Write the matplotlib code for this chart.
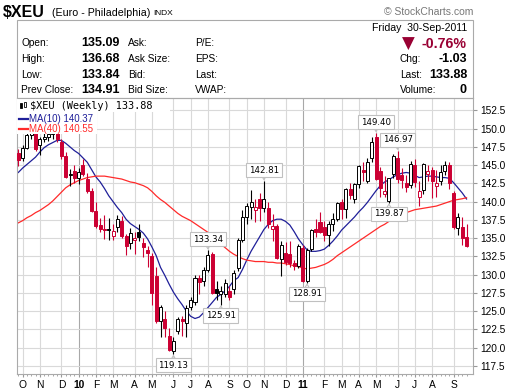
import numpy as np
import pandas as pd
import matplotlib
matplotlib.use("Agg")
import matplotlib.pyplot as plt
from matplotlib.patches import Rectangle

plt.rcParams["font.family"] = ["Liberation Sans", "DejaVu Sans"]

W, H = 520, 391

# weekly bars, week starting Monday
dates = pd.date_range("2009-09-28", periods=105, freq="W-MON")

opens = [146.6, 146.0, 147.3, 149.1, 150.1, 147.8, 148.6, 148.9, 149.3, 149.9,
         148.2, 146.2, 143.6, 144.2, 143.3, 145.0, 143.1, 141.5, 138.7, 136.8,
         136.3, 136.1, 135.3, 136.6, 137.4, 135.3, 134.4, 134.7, 135.8, 134.4,
         133.4, 132.6, 129.8, 123.6, 123.9, 121.6, 119.5, 122.3, 124.0, 123.4,
         125.6, 126.3, 129.6, 129.2, 130.7, 132.9, 128.0, 127.4, 127.3, 127.7,
         128.0, 130.9, 134.8, 137.9, 139.3, 138.9, 140.3, 139.2, 139.2, 136.2,
         136.7, 132.2, 133.0, 132.8, 131.6, 131.2, 133.6, 129.1, 133.5, 136.2,
         137.2, 136.5, 135.4, 137.0, 137.6, 139.9, 139.0, 141.8, 140.3, 142.4,
         144.4, 142.9, 146.0, 148.9, 144.2, 141.1, 140.1, 143.75, 146.0, 143.7,
         142.5, 142.3, 145.0, 140.6, 141.6, 143.8, 144.3, 142.2, 142.9, 144.2,
         145.0, 141.2, 136.4, 136.5, 135.1]
highs = [147.2, 147.8, 149.5, 150.6, 150.6, 148.9, 150.0, 150.2, 151.4, 150.8,
         148.6, 146.8, 144.5, 145.0, 144.6, 145.8, 143.9, 141.9, 140.0, 137.8,
         138.2, 137.7, 137.0, 138.2, 138.0, 135.6, 136.4, 135.9, 137.0, 135.0,
         133.9, 133.0, 131.0, 125.9, 125.0, 122.7, 121.5, 124.2, 124.3, 125.8,
         127.0, 130.0, 129.9, 131.0, 133.34, 133.1, 129.1, 128.5, 129.4, 128.4,
         130.6, 135.0, 138.9, 139.8, 141.6, 140.3, 141.2, 142.81, 139.9, 138.3,
         137.0, 134.6, 134.5, 134.6, 132.0, 134.2, 134.0, 133.6, 136.2, 137.6,
         138.6, 137.4, 137.4, 138.4, 140.0, 140.4, 141.9, 142.5, 142.6, 145.0,
         145.5, 146.0, 148.8, 149.40, 144.8, 143.5, 143.3, 146.5, 146.97, 144.6,
         143.7, 145.6, 145.8, 142.8, 145.3, 145.0, 144.8, 144.4, 145.0, 145.6,
         145.5, 141.5, 138.5, 137.9, 137.0]
lows = [144.9, 145.6, 147.2, 148.6, 146.9, 146.4, 148.2, 148.3, 148.6, 148.2,
        145.9, 143.2, 142.2, 142.6, 142.4, 143.5, 141.2, 138.6, 136.4, 135.8,
        134.9, 134.8, 134.8, 135.9, 135.0, 132.7, 133.5, 132.8, 134.6, 132.4,
        131.1, 125.9, 123.4, 121.5, 121.5, 119.6, 119.13, 121.9, 121.6, 121.5,
        125.2, 125.9, 127.4, 128.5, 130.4, 127.3, 126.6, 125.91, 126.9, 126.6,
        127.4, 130.5, 134.5, 137.0, 137.6, 137.2, 137.3, 138.6, 136.4, 134.6,
        132.2, 129.8, 131.3, 131.1, 130.6, 130.9, 129.0, 128.91, 133.2, 135.2,
        135.7, 134.6, 133.9, 136.0, 137.3, 137.6, 137.7, 140.4, 139.8, 141.9,
        142.8, 142.5, 145.5, 143.0, 140.6, 140.7, 139.87, 143.2, 142.5, 141.9,
        141.3, 141.9, 142.0, 139.4, 141.0, 142.9, 140.5, 140.6, 142.3, 143.6,
        141.8, 136.3, 135.5, 134.0, 133.8]
closes = [145.7, 147.4, 149.1, 150.1, 147.2, 148.6, 148.9, 149.3, 149.9, 148.6,
          146.2, 143.4, 143.8, 143.3, 144.1, 143.8, 141.5, 138.7, 136.7, 136.2,
          136.1, 136.2, 136.0, 137.6, 135.3, 133.9, 135.7, 135.0, 135.2, 133.8,
          133.0, 127.5, 123.6, 125.6, 122.7, 119.7, 120.9, 123.9, 123.6, 125.5,
          126.5, 129.5, 129.0, 130.6, 132.7, 127.5, 127.5, 127.8, 128.9, 127.0,
          130.2, 134.8, 137.9, 139.4, 139.9, 139.3, 139.2, 140.3, 136.9, 136.7,
          132.3, 134.1, 131.8, 131.6, 131.2, 133.9, 129.1, 133.4, 136.1, 135.9,
          135.8, 135.4, 137.0, 137.6, 139.8, 139.0, 141.8, 140.9, 142.4, 144.9,
          144.0, 145.5, 148.2, 143.1, 141.9, 141.5, 143.2, 146.3, 143.1, 143.0,
          142.0, 145.2, 142.7, 141.5, 145.1, 144.2, 142.8, 142.5, 144.1, 145.0,
          142.6, 136.5, 137.9, 135.05, 133.88]

ma10 = [144.0, 144.6, 145.1, 145.6, 146.1, 146.8, 147.4, 147.8, 148.1, 148.4,
        148.4, 148.0, 147.5, 147.0, 146.6, 146.0, 145.4, 144.4, 143.4, 142.7,
        141.8, 140.8, 140.0, 139.2, 138.5, 137.6, 137.0, 136.6, 136.2, 135.7,
        134.9, 133.8, 132.6, 131.0, 129.9, 128.7, 127.6, 126.7, 125.9, 125.0,
        124.3, 124.0, 124.2, 124.8, 125.5, 126.2, 126.9, 127.3, 127.8, 128.4,
        129.2, 129.6, 130.7, 132.0, 133.2, 134.2, 135.2, 136.2, 136.9, 137.4,
        137.6, 137.6, 137.3, 136.8, 135.9, 134.9, 134.1, 133.4, 133.2, 133.2,
        133.3, 133.5, 134.0, 134.6, 135.3, 136.1, 136.7, 137.3, 137.9, 138.6,
        139.2, 139.9, 140.7, 141.5, 142.2, 142.7, 143.0, 143.4, 143.7, 143.9,
        144.0, 143.9, 143.6, 143.3, 143.4, 143.5, 143.5, 143.4, 143.3, 143.3,
        143.2, 142.6, 141.9, 141.2, 140.37]
ma40 = [137.1, 137.4, 137.8, 138.1, 138.5, 138.8, 139.2, 139.6, 140.1, 140.7,
        141.3, 141.9, 142.3, 142.6, 142.9, 143.1, 143.3, 143.4, 143.5, 143.5,
        143.5, 143.4, 143.3, 143.2, 143.1, 142.9, 142.7, 142.6, 142.4, 142.2,
        141.9, 141.4, 140.8, 140.3, 139.9, 139.4, 138.9, 138.4, 138.0, 137.7,
        137.4, 137.0, 136.6, 136.2, 135.8, 135.3, 134.7, 134.2, 133.7, 133.2,
        132.8, 132.5, 132.2, 132.0, 131.9, 131.8, 131.8, 131.8, 131.7, 131.7,
        131.6, 131.6, 131.5, 131.4, 131.2, 131.1, 130.9, 130.8, 130.9, 131.0,
        131.2, 131.4, 131.7, 132.1, 132.6, 133.0, 133.4, 133.8, 134.2, 134.6,
        135.0, 135.4, 135.8, 136.2, 136.6, 136.9, 137.3, 137.7, 138.0, 138.3,
        138.5, 138.7, 138.9, 139.0, 139.1, 139.2, 139.3, 139.4, 139.6, 139.8,
        140.0, 140.2, 140.3, 140.4, 140.55]

# pivot labels: (bar index, "high"/"low")
pivots = [(36, "low"), (44, "high"), (47, "low"), (57, "high"),
          (67, "low"), (83, "high"), (86, "low"), (88, "high")]

header_left = ["Open:", "High:", "Low:", "Prev Close:"]
header_vals = ["135.09", "136.68", "133.84", "134.91"]
header_mid = ["Ask:", "Ask Size:", "Bid:", "Bid Size:"]
header_right = ["P/E:", "EPS:", "Last:", "VWAP:"]
quote_labels = ["Chg:", "Last:", "Volume:"]
quote_vals = ["-1.03", "133.88", "0"]

RED = "#cc0033"
MAROON = "#990033"


def fx(x):
    return x / W


def fy(y):
    return 1 - y / H


fig = plt.figure(figsize=(W / 100, H / 100), dpi=100)

# ---------- header ----------
fig.text(fx(3), fy(12.5), "$XEU", fontsize=11.5, fontweight="bold", va="center")
fig.text(fx(52), fy(13), "(Euro - Philadelphia)", fontsize=7.7, va="center")
fig.text(fx(153), fy(13.5), "INDX", fontsize=6, va="center")
fig.text(fx(473), fy(12), "\u00a9 StockCharts.com", fontsize=7.5,
         color="#777777", ha="right", va="center")
fig.add_artist(Rectangle((fx(17), fy(98)), (473 - 17) / W, (98 - 19.5) / H,
                         transform=fig.transFigure, fill=False,
                         ec="#aaaaaa", lw=0.8))

rows_y = [43, 59, 75, 90]
for y, a, v, b, c in zip(rows_y, header_left, header_vals, header_mid, header_right):
    fig.text(fx(21), fy(y), a, fontsize=7.3, va="center")
    fig.text(fx(120), fy(y), v, fontsize=9, fontweight="bold", ha="right", va="center")
    fig.text(fx(128), fy(y), b, fontsize=7.3, va="center")
    fig.text(fx(195), fy(y), c, fontsize=7.3, va="center")

fig.text(fx(467), fy(28), "Friday  30-Sep-2011", fontsize=7.6, ha="right", va="center")
fig.text(fx(408), fy(44), "\u25bc", fontsize=12, color=MAROON, ha="center",
         va="center", family="DejaVu Sans")
fig.text(fx(467), fy(44), "-0.76%", fontsize=10.2, fontweight="bold",
         color=MAROON, ha="right", va="center")
for y, a, v in zip(rows_y[1:], quote_labels, quote_vals):
    fig.text(fx(400), fy(y), a, fontsize=7.3, va="center")
    fig.text(fx(467), fy(y), v, fontsize=9, fontweight="bold", ha="right", va="center")

# ---------- price chart ----------
ax = fig.add_axes([fx(17), fy(374), (473 - 17) / W, (374 - 98) / H])
ax.set_xlim(-0.3, 105.5)
ax.set_ylim(116.4, 154.2)

n = len(closes)
idx = np.arange(n)

# month gridlines at first bar of each month
month_pos, month_lab, month_jan = [], [], []
for i in range(1, n):
    if dates[i].month != dates[i - 1].month:
        month_pos.append(i)
        if dates[i].month == 1:
            month_lab.append(dates[i].strftime("%y"))
            month_jan.append(True)
        else:
            month_lab.append(dates[i].strftime("%b")[0])
            month_jan.append(False)

for p, jan in zip(month_pos, month_jan):
    ax.axvline(p, color="#a8a8a8" if jan else "#d9d9d9", lw=0.8, zorder=0)

ax.set_yticks(np.arange(117.5, 152.6, 2.5))
ax.yaxis.set_major_formatter(matplotlib.ticker.FormatStrFormatter("%.1f"))
ax.yaxis.tick_right()
ax.grid(axis="y", color="#d9d9d9", lw=0.8, zorder=0)
ax.set_axisbelow(True)

ax.set_xticks(month_pos)
ax.set_xticklabels(month_lab)
for lab, jan in zip(ax.get_xticklabels(), month_jan):
    if jan:
        lab.set_fontweight("bold")
        lab.set_fontsize(8.5)
ax.set_xticks(idx, minor=True)
ax.tick_params(axis="x", which="major", length=2, color="#999999",
               labelsize=7.4, pad=2)
ax.tick_params(axis="x", which="minor", length=1.5, color="#999999")
ax.tick_params(axis="y", length=3, color="#999999", labelsize=7.3, pad=2)
for s in ax.spines.values():
    s.set_color("#aaaaaa")
    s.set_linewidth(0.8)

# moving averages
ax.plot(idx, ma10, color="#1f1f99", lw=0.9, zorder=2)
ax.plot(idx, ma40, color="#ff2a2a", lw=0.9, zorder=2)

# candles
bw = 0.7
for i in range(n):
    o, h, l, c = opens[i], highs[i], lows[i], closes[i]
    prev = closes[i - 1] if i > 0 else o
    col = RED if c < prev else "black"
    ax.plot([i, i], [l, h], color=col, lw=0.8, zorder=3, solid_capstyle="butt")
    lo, hi = min(o, c), max(o, c)
    face = col if c < o else "white"
    ax.add_patch(Rectangle((i - bw / 2, lo), bw, max(hi - lo, 0.05),
                           fc=face, ec=col, lw=0.7, zorder=4))

# pivot labels
fig.canvas.draw()
bb = ax.get_window_extent()
ux = (ax.get_xlim()[1] - ax.get_xlim()[0]) / bb.width
uy = (ax.get_ylim()[1] - ax.get_ylim()[0]) / bb.height
for i, kind in pivots:
    if kind == "high":
        v = highs[i]
        sgn = 1
    else:
        v = lows[i]
        sgn = -1
    ax.plot([i - 3 * ux, i, i + 3 * ux],
            [v + sgn * 6.5 * uy, v + sgn * 1.5 * uy, v + sgn * 6.5 * uy],
            color="#c0c0c0", lw=0.8, zorder=5)
    ax.text(i, v + sgn * 6.5 * uy, f"{v:.2f}", fontsize=6.2, family="DejaVu Sans",
            ha="center", va="bottom" if sgn > 0 else "top", zorder=6,
            bbox=dict(boxstyle="square,pad=0.3", fc="white", ec="#c0c0c0", lw=0.8))


# legend block (white background hides bars beneath it)
def axx(x):
    return (x - 17) / (473 - 17)


def axy(y):
    return (374 - y) / (374 - 98)


ax.add_patch(Rectangle((axx(17), axy(112)), axx(170), axy(98) - axy(112),
                       transform=ax.transAxes, fc="white", ec="none", zorder=7))
ax.add_patch(Rectangle((axx(17), axy(134)), axx(97), axy(112) - axy(134),
                       transform=ax.transAxes, fc="white", ec="none", zorder=7))
# small candle icon
for x0, y0, y1, fill in [(19.5, 103, 108, "black"), (23.5, 102, 107, "white")]:
    ax.add_patch(Rectangle((axx(x0), axy(y1)), axx(19.5) - axx(17), axy(y0) - axy(y1),
                           transform=ax.transAxes, fc=fill, ec="black", lw=0.6, zorder=8))
ax.text(axx(30), axy(106), f"$XEU (Weekly) {closes[-1]:.2f}", transform=ax.transAxes,
        fontsize=7.4, family="DejaVu Sans Mono", va="center", zorder=8)
ax.plot([axx(19), axx(28)], [axy(118.5)] * 2, transform=ax.transAxes,
        color="#1f1f99", lw=1.6, zorder=8)
ax.text(axx(29), axy(118.5), f"MA(10) {ma10[-1]:.2f}", transform=ax.transAxes,
        fontsize=7, color="#1f1f99", va="center", zorder=8)
ax.plot([axx(19), axx(28)], [axy(129)] * 2, transform=ax.transAxes,
        color="#ff2a2a", lw=1.6, zorder=8)
ax.text(axx(29), axy(129), f"MA(40) {ma40[-1]:.2f}", transform=ax.transAxes,
        fontsize=7, color="#ff2a2a", va="center", zorder=8)

fig.savefig("out.png", dpi=100)
